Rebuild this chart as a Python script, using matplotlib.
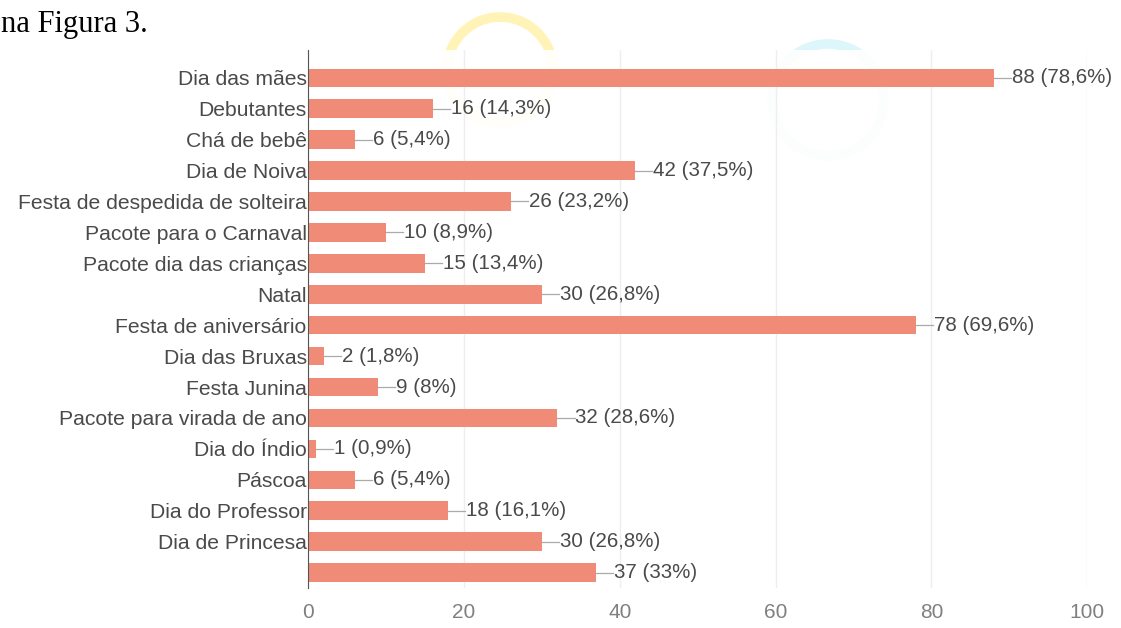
import matplotlib.pyplot as plt
from matplotlib.patches import Ellipse

categorias = ["Dia das mães", "Debutantes", "Chá de bebê", "Dia de Noiva",
              "Festa de despedida de solteira", "Pacote para o Carnaval",
              "Pacote dia das crianças", "Natal", "Festa de aniversário",
              "Dia das Bruxas", "Festa Junina", "Pacote para virada de ano",
              "Dia do Índio", "Páscoa", "Dia do Professor", "Dia de Princesa", ""]
valores = [88, 16, 6, 42, 26, 10, 15, 30, 78, 2, 9, 32, 1, 6, 18, 30, 37]
percentuais = ["78,6%", "14,3%", "5,4%", "37,5%", "23,2%", "8,9%", "13,4%",
               "26,8%", "69,6%", "1,8%", "8%", "28,6%", "0,9%", "5,4%",
               "16,1%", "26,8%", "33%"]
ticks_x = [0, 20, 40, 60, 80, 100]

COR_BARRA = '#EF8B77'
W, H = 1121, 628


def anel(fig, cx, cy, r, cor):
    # circulo em pixels da figura (marca d'agua)
    e = Ellipse((cx / W, 1 - cy / H), 2 * r / W, 2 * r / H,
                transform=fig.transFigure, fill=False, lw=7, ec=cor,
                zorder=-5)
    fig.patches.append(e)


def main():
    fig = plt.figure(figsize=(11.21, 6.28), dpi=100)

    anel(fig, 500, 70, 53, '#FFF3B8')
    anel(fig, 828, 100, 56, '#DDF6FB')

    fig.text(0.001, 1 - 32 / H, "na Figura 3.", family='Liberation Serif',
             fontsize=22, va='baseline', ha='left', color='black')

    ax = fig.add_axes([0.2748, 0.0637, 0.695, 0.8567])
    ax.set_facecolor((1, 1, 1, 0.92))

    y = list(range(len(categorias)))
    ax.barh(y, valores, height=0.6, color=COR_BARRA, zorder=3)

    for i, v in enumerate(valores):
        ax.plot([v, v + 2.2], [i, i], color='#aaaaaa', lw=0.9, zorder=3)
        ax.text(v + 2.3, i, f"{v} ({percentuais[i]})", va='center',
                ha='left', fontsize=14.8, color='#4a4a4a',
                family='Liberation Sans')

    ax.set_ylim(16.5, -0.9)
    ax.set_xlim(0, 100)
    ax.set_yticks(y)
    ax.set_yticklabels(categorias, fontsize=15.2, color='#4a4a4a',
                       family='Liberation Sans')
    ax.set_xticks(ticks_x)
    ax.set_xticklabels([str(t) for t in ticks_x], fontsize=15,
                       color='#808080', family='Liberation Sans')
    ax.tick_params(axis='both', length=0, pad=1)
    ax.tick_params(axis='x', pad=11)

    ax.grid(axis='x', color='#EEEEEE', lw=1, zorder=0)
    for s in ['top', 'right', 'bottom']:
        ax.spines[s].set_visible(False)
    ax.spines['left'].set_color('#555555')
    ax.spines['left'].set_zorder(4)

    fig.savefig('out.png', dpi=100)


if __name__ == "__main__":
    main()
